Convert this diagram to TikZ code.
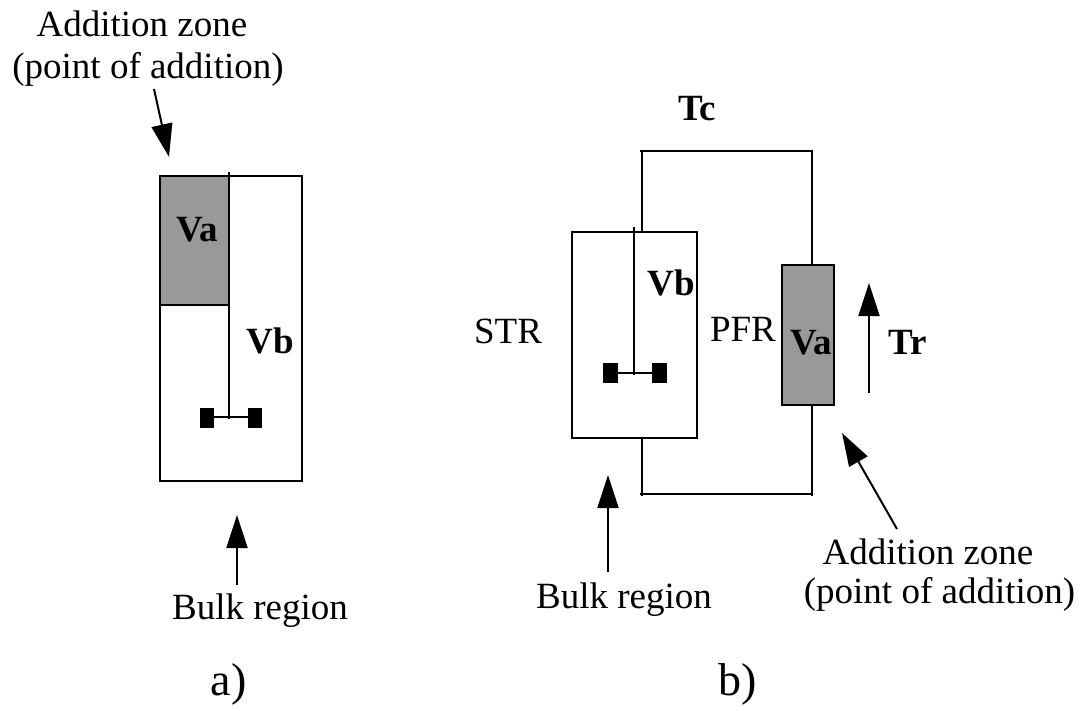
\documentclass[tikz,border=0pt]{standalone}
\usepackage{fontspec}
\setmainfont{Liberation Serif}
\usetikzlibrary{arrows.meta}
\tikzset{
 px/.style={x=1pt,y=-1pt},
 ln/.style={draw=black,line width=2pt},
 zone/.style={draw=black,line width=2.4pt,fill=black!40},
 arr/.style={draw=black,line width=2pt,-{Triangle[length=33pt,width=21pt]}},
 lab/.style={font=\fontsize{37}{42}\selectfont,inner sep=0pt,anchor=base},
 blab/.style={font=\fontsize{37}{42}\selectfont\bfseries,inner sep=0pt,anchor=base},
 big/.style={font=\fontsize{46}{52}\selectfont,inner sep=0pt,anchor=base},
 imp/.style={fill=black,draw=none},
}
\begin{document}
\begin{tikzpicture}[px]
\useasboundingbox (0,0) rectangle (1084,711);
% a)
\draw[ln] (160,176) rectangle (302,481);
\draw[zone] (160,176) rectangle (229,305);
\draw[ln] (229,172) -- (229,419);
\draw[ln,line width=2.8pt] (229,176) -- (229,305);
\draw[ln] (207,417) -- (255,417);
\fill[imp] (200,408) rectangle (214,428);
\fill[imp] (248,408) rectangle (262,428);
\node[blab] (va1) at (197,242) {Va};
\node[blab] (vb1) at (270,353) {Vb};
\node[lab] (az1a) at (142,37) {Addition zone};
\node[lab] (az1b) at (148,79) {(point of addition)};
\coordinate (a1s) at (154,89);
\coordinate (a1e) at (169,157);
\draw[arr] (a1s) -- (a1e);
\coordinate (b1s) at (237,585);
\coordinate (b1e) at (237,515);
\draw[arr] (b1s) -- (b1e);
\node[lab] (bulk1) at (260,619) {Bulk region};
\node[big] (la) at (228.5,695) {a)};
% b)
\draw[ln] (572,232) rectangle (697,438);
\draw[ln] (642,232) -- (642,151) (640,151) -- (813,151) (812,151) -- (812,265);
\draw[ln] (642,438) -- (642,496) (640,494) -- (813,494) (812,496) -- (812,405);
\draw[zone] (782,265) rectangle (834,405);
\draw[ln] (634,227) -- (634,375);
\draw[ln] (610,373) -- (660,373);
\fill[imp] (603,363) rectangle (618,383);
\fill[imp] (652,363) rectangle (667,383);
\node[blab] (tc) at (697.5,121) {Tc};
\node[blab] (vb2) at (671,296) {Vb};
\node[blab] (va2) at (811.5,354) {Va};
\node[blab] (tr) at (908,354) {Tr};
\node[lab] (str) at (508,343) {STR};
\node[lab] (pfr) at (743,341) {PFR};
\coordinate (t1) at (869,393);
\coordinate (t2) at (869,283);
\draw[arr] (t1) -- (t2);
\coordinate (c1s) at (897,529);
\coordinate (c1e) at (842,433);
\draw[arr] (c1s) -- (c1e);
\node[lab] (az2a) at (928,564) {Addition zone};
\node[lab] (az2b) at (939.5,603) {(point of addition)};
\coordinate (d1s) at (608,572);
\coordinate (d1e) at (608,475);
\draw[arr] (d1s) -- (d1e);
\node[lab] (bulk2) at (624,608) {Bulk region};
\node[big] (lb) at (738,695) {b)};
\end{tikzpicture}
\end{document}
